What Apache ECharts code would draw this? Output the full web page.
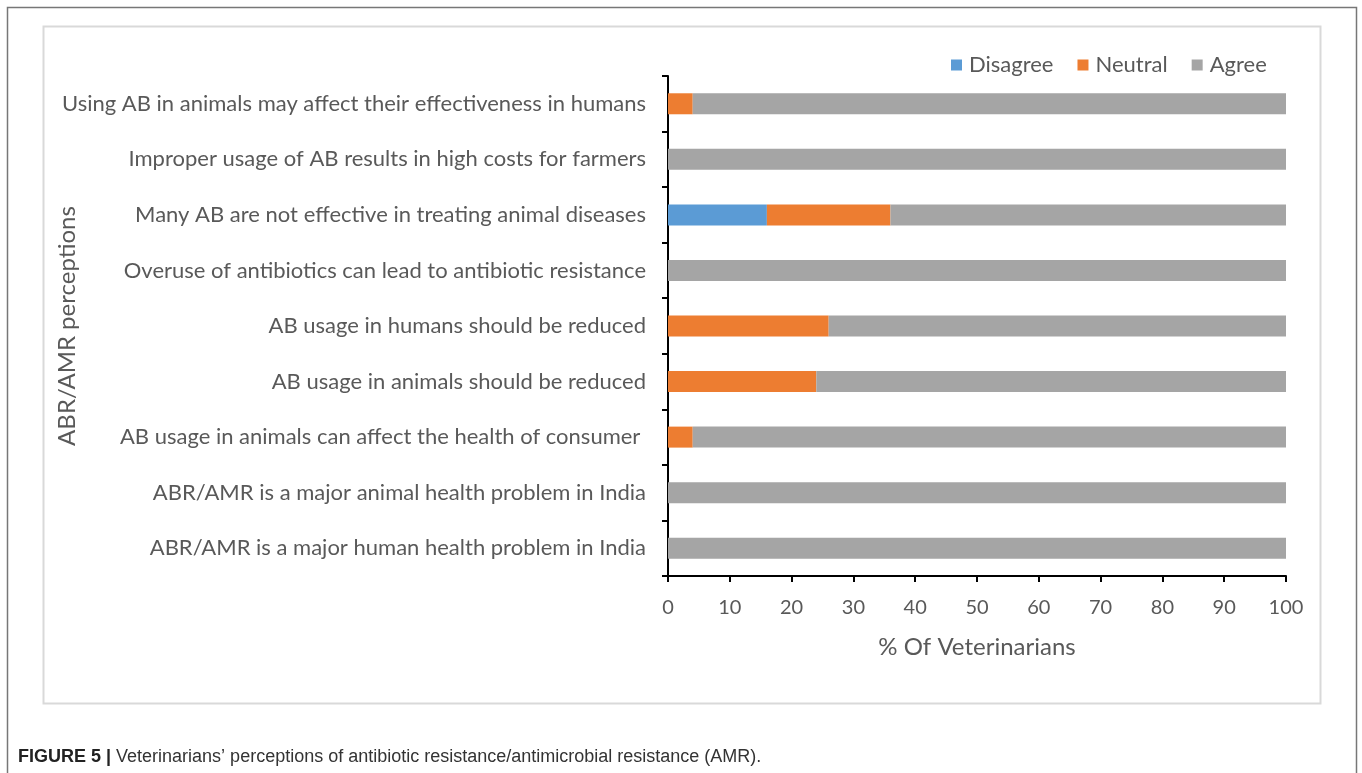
<!DOCTYPE html>
<html><head><meta charset="utf-8">
<script src="https://cdn.jsdelivr.net/npm/echarts@6/dist/echarts.min.js"></script>
<style>html,body{margin:0;padding:0;background:#fff}#c{width:1362px;height:773px}</style>
</head><body><div id="c"></div>
<script>
const categories = [
  "ABR/AMR is a major human health problem in India",
  "ABR/AMR is a major animal health problem in India",
  "AB usage in animals can affect the health of consumer ",
  "AB usage in animals should be reduced",
  "AB usage in humans should be reduced",
  "Overuse of antibiotics can lead to antibiotic resistance",
  "Many AB are not effective in treating animal diseases",
  "Improper usage of AB results in high costs for farmers",
  "Using AB in animals may affect their effectiveness in humans"
];
const disagree = [0, 0, 0, 0, 0, 0, 16, 0, 0];
const neutral  = [0, 0, 4, 24, 26, 0, 20, 0, 4];
const agree    = [100, 100, 96, 76, 74, 100, 64, 100, 96];
const xTicks = [0,10,20,30,40,50,60,70,80,90,100];
const yAxisTitle = 'ABR/AMR perceptions';

const font = "Lato, 'Open Sans', sans-serif";
const txt = '#595959';
const chart = echarts.init(document.getElementById('c'), null, {renderer:'canvas'});
chart.setOption({
  animation:false,
  backgroundColor:'#fff',
  graphic:[
    {type:'rect', shape:{x:7.5,y:7.5,width:1349,height:800}, style:{fill:'none',stroke:'#777',lineWidth:1.5}, z:-10},
    {type:'rect', shape:{x:43.5,y:26.5,width:1277,height:677}, style:{fill:'#fff',stroke:'#d9d9d9',lineWidth:2}, z:-9},
    {type:'text', x:67, y:326, rotation:Math.PI/2, style:{
      text:yAxisTitle, fill:txt, fontSize:24, fontFamily:font, align:'center', verticalAlign:'middle'}},
    {type:'text', left:18, top:748, style:{
      text:'{b|FIGURE 5 |} Veterinarians\u2019 perceptions of antibiotic resistance/antimicrobial resistance (AMR).',
      fill:'#333', font:"18px 'Liberation Sans', Arial, sans-serif",
      rich:{b:{fontWeight:'bold', fontSize:18, fontFamily:"'Liberation Sans', Arial, sans-serif", fill:'#222'}}
    }}
  ],
  color:['#5B9BD5','#ED7D31','#A5A5A5'],
  legend:{
    data:['Disagree','Neutral','Agree'],
    left:946, top:49, itemWidth:11, itemHeight:11, itemGap:24,
    icon:'rect',
    textStyle:{color:txt, fontSize:22, fontFamily:font, padding:[0,0,0,2]}
  },
  grid:{left:668, right:76, top:76, bottom:197, containLabel:false},
  xAxis:{
    type:'value', min:0, max:100, interval:10,
    name:'% Of Veterinarians', nameLocation:'middle', nameGap:59,
    nameTextStyle:{color:txt, fontSize:24, fontFamily:font},
    axisLine:{show:true, lineStyle:{color:'#000', width:2}},
    axisTick:{show:true, length:6, lineStyle:{color:'#000', width:2}},
    axisLabel:{color:txt, fontSize:20, fontFamily:font, margin:22,
      formatter:v=>xTicks.includes(v)?String(v):''},
    splitLine:{show:false}
  },
  yAxis:{
    type:'category', data:categories,
    axisLine:{show:true, lineStyle:{color:'#000', width:2}},
    axisTick:{show:true, length:6, alignWithLabel:false, lineStyle:{color:'#000', width:2}},
    axisLabel:{color:txt, fontSize:22, fontFamily:font, margin:22}
  },
  series:[
    {name:'Disagree', type:'bar', stack:'s', barWidth:21, data:disagree},
    {name:'Neutral', type:'bar', stack:'s', barWidth:21, data:neutral},
    {name:'Agree', type:'bar', stack:'s', barWidth:21, data:agree}
  ]
});
</script></body></html>
